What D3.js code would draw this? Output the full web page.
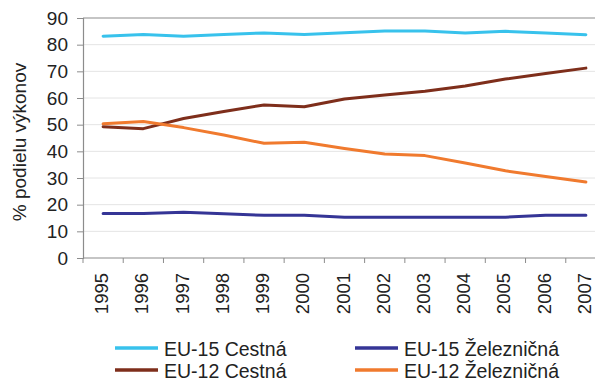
<!DOCTYPE html>
<html><head><meta charset="utf-8">
<script src="https://cdn.jsdelivr.net/npm/d3@7"></script>
<style>
body{margin:0;background:#fff;}
svg{display:block;font-family:"Liberation Sans",Arial,sans-serif;}
</style></head>
<body><svg id="c" width="595" height="381"></svg>
<script>
const years = ["1995","1996","1997","1998","1999","2000","2001","2002","2003","2004","2005","2006","2007"];
const yTicks = [0,10,20,30,40,50,60,70,80,90];
const eu15Cestna = [83.2,83.8,83.2,83.8,84.4,83.8,84.5,85.1,85.1,84.4,85.0,84.4,83.7];
const eu15Zeleznicna = [16.7,16.7,17.2,16.6,16.0,16.0,15.3,15.3,15.3,15.3,15.3,16.0,16.0];
const eu12Cestna = [49.2,48.5,52.3,54.9,57.4,56.7,59.6,61.1,62.5,64.5,67.1,69.2,71.2];
const eu12Zeleznicna = [50.3,51.2,48.9,46.1,43.0,43.4,41.1,39.0,38.4,35.6,32.7,30.6,28.5];
const seriesNames = ["EU-15 Cestná","EU-15 Železničná","EU-12 Cestná","EU-12 Železničná"];
const seriesColors = ["#38c2ec","#353596","#7e2e1b","#f07a2e"];
const seriesData = [eu15Cestna, eu15Zeleznicna, eu12Cestna, eu12Zeleznicna];

const svg = d3.select("#c");
const L = 83, T = 18, B = 258, R = 606;
const x = d3.scaleBand().domain(years).range([L, R]).paddingInner(0).paddingOuter(0);
const y = d3.scaleLinear().domain([0, 90]).range([B, T]);

// gridlines
svg.append("g").selectAll("line").data(yTicks.filter(d => d > 0 && d < 90)).join("line")
  .attr("x1", L).attr("x2", 595).attr("y1", d => y(d)).attr("y2", d => y(d))
  .attr("stroke", "#e4e4e4").attr("stroke-width", 1);
// top border
svg.append("line").attr("x1", L).attr("x2", 595).attr("y1", y(90)).attr("y2", y(90))
  .attr("stroke", "#8c8c8c").attr("stroke-width", 1.2);

// y axis
const ya = svg.append("g").attr("transform", `translate(${L},0)`)
  .call(d3.axisLeft(y).tickValues(yTicks).tickSize(6).tickPadding(9));
ya.select(".domain").attr("stroke", "#8c8c8c").attr("stroke-width", 1.2);
ya.selectAll(".tick line").attr("stroke", "#8c8c8c");
ya.selectAll("text").attr("font-size", 19).attr("fill", "#222").style("font-family", "Liberation Sans, Arial, sans-serif");

// x axis
const xa = svg.append("g").attr("transform", `translate(0,${B})`);
xa.append("line").attr("x1", L).attr("x2", 595).attr("y1", 0).attr("y2", 0)
  .attr("stroke", "#8c8c8c").attr("stroke-width", 1.2);
xa.selectAll("line.tk").data(years).join("line").attr("class", "tk")
  .attr("x1", d => x(d)).attr("x2", d => x(d)).attr("y1", 0).attr("y2", 5)
  .attr("stroke", "#8c8c8c");
xa.selectAll("text").data(years).join("text")
  .attr("transform", d => `translate(${x(d) + x.bandwidth()/2 + 5},15) rotate(-90)`)
  .attr("text-anchor", "end").attr("font-size", 18.5).attr("fill", "#222")
  .text(d => d);

// y title
svg.append("text").attr("transform", `translate(26,${(T+B)/2 + 4}) rotate(-90)`)
  .attr("text-anchor", "middle").attr("font-size", 19).attr("fill", "#222")
  .text("% podielu výkonov");

// lines
const line = d3.line().x((d, i) => x(years[i]) + x.bandwidth()/2).y(d => y(d));
svg.append("g").selectAll("path").data(seriesData).join("path")
  .attr("d", d => line(d)).attr("fill", "none")
  .attr("stroke", (d, i) => seriesColors[i]).attr("stroke-width", 3)
  .attr("stroke-linejoin", "round").attr("stroke-linecap", "round");

// legend
const legPos = [[115, 348], [355, 348], [115, 370], [355, 370]];
const lg = svg.append("g").selectAll("g").data(seriesNames).join("g")
  .attr("transform", (d, i) => `translate(${legPos[i][0]},${legPos[i][1]})`);
lg.append("line").attr("x1", 0).attr("x2", 43).attr("y1", 0).attr("y2", 0)
  .attr("stroke", (d, i) => seriesColors[i]).attr("stroke-width", 3.5);
lg.append("text").attr("x", 49).attr("y", 7.5).attr("font-size", 19.5).attr("fill", "#222")
  .text(d => d);
</script></body></html>
